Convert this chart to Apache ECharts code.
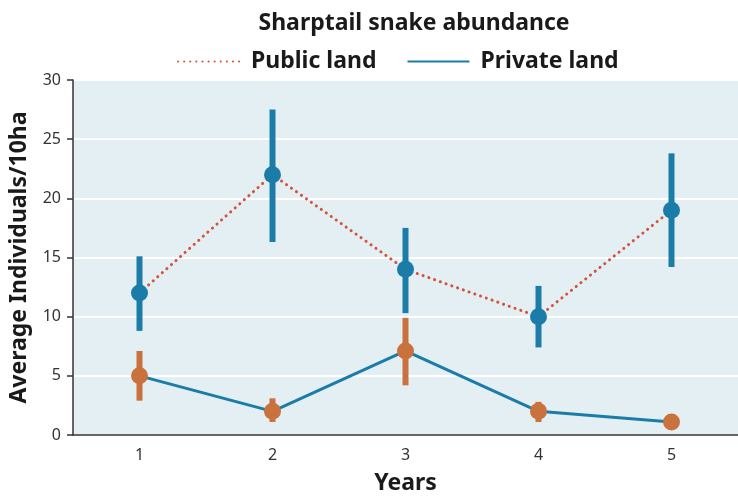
<!DOCTYPE html>
<html>
<head>
<meta charset="utf-8">
<script src="https://cdn.jsdelivr.net/npm/echarts@6/dist/echarts.min.js"></script>
<style>
html,body{margin:0;padding:0;background:#fff;}
#chart{width:738px;height:500px;}
</style>
</head>
<body>
<div id="chart"></div>
<script>
var years = ['1', '2', '3', '4', '5'];
var publicMean = [12, 22, 14, 10, 19];
var publicLow = [8.8, 16.3, 10.3, 7.4, 14.2];
var publicHigh = [15.1, 27.5, 17.5, 12.6, 23.8];
var privateMean = [5, 2, 7.1, 2, 1.1];
var privateLow = [2.9, 1.1, 4.2, 1.1, null];
var privateHigh = [7.1, 3.1, 9.9, 2.8, null];

var BLUE = '#1b7ca8';
var ORANGE = '#c9723e';
var DOT = '#d4533b';
var FONT = '"Noto Sans", sans-serif';

function errData(low, high) {
  var out = [];
  for (var i = 0; i < years.length; i++) {
    if (low[i] != null && high[i] != null) out.push([i, low[i], high[i]]);
  }
  return out;
}
function errSeries(low, high, color) {
  return {
    type: 'custom',
    silent: true,
    z: 3,
    data: errData(low, high),
    renderItem: function (params, api) {
      var p1 = api.coord([api.value(0), api.value(1)]);
      var p2 = api.coord([api.value(0), api.value(2)]);
      return {
        type: 'line',
        shape: {x1: p1[0], y1: p1[1], x2: p2[0], y2: p2[1]},
        style: {stroke: color, lineWidth: 6}
      };
    }
  };
}

var chart = echarts.init(document.getElementById('chart'));
chart.setOption({
  animation: false,
  textStyle: {fontFamily: FONT},
  title: {
    text: 'Sharptail snake abundance',
    left: 409, textAlign: 'center', top: 7,
    textStyle: {fontSize: 23, fontWeight: 'bold', color: '#1a1a1a', fontFamily: FONT}
  },
  legend: {
    top: 45, left: 172,
    itemWidth: 62, itemHeight: 14, itemGap: 30,
    itemStyle: {opacity: 0},
    textStyle: {fontSize: 23, fontWeight: 'bold', color: '#1a1a1a', fontFamily: FONT, padding: [0, 0, 0, 6]},
    data: ['Public land', 'Private land']
  },
  grid: {
    left: 73, right: 0, top: 80, bottom: 59,
    show: true, backgroundColor: '#e4eff4', borderWidth: 0
  },
  xAxis: {
    type: 'category',
    data: years,
    name: 'Years', nameLocation: 'middle', nameGap: 37,
    nameTextStyle: {fontSize: 23, fontWeight: 'bold', color: '#1a1a1a', fontFamily: FONT},
    axisLine: {lineStyle: {color: '#333', width: 1.5}},
    axisTick: {length: 6, lineStyle: {color: '#333', width: 1.5}},
    axisLabel: {fontSize: 16, color: '#333', margin: 12}
  },
  yAxis: {
    type: 'value', min: 0, max: 30, interval: 5,
    name: 'Average Individuals/10ha', nameLocation: 'middle', nameGap: 42,
    nameTextStyle: {fontSize: 23, fontWeight: 'bold', color: '#1a1a1a', fontFamily: FONT},
    axisLine: {show: true, lineStyle: {color: '#333', width: 1.5}},
    axisTick: {show: true, length: 6, lineStyle: {color: '#333', width: 1.5}},
    axisLabel: {fontSize: 16, color: '#333', margin: 12},
    splitLine: {show: true, lineStyle: {color: '#ffffff', width: 2}}
  },
  series: [
    {
      name: 'Public land', type: 'line', data: publicMean,
      symbol: 'none', z: 2,
      itemStyle: {color: DOT},
      lineStyle: {color: DOT, width: 3, type: [0.1, 6], cap: 'round'}
    },
    {
      name: 'Private land', type: 'line', data: privateMean,
      symbol: 'none', z: 2,
      itemStyle: {color: BLUE},
      lineStyle: {color: BLUE, width: 3}
    },
    errSeries(publicLow, publicHigh, BLUE),
    errSeries(privateLow, privateHigh, ORANGE),
    {
      type: 'scatter', data: publicMean, symbolSize: 17, z: 4, silent: true,
      itemStyle: {color: BLUE, opacity: 1}
    },
    {
      type: 'scatter', data: privateMean, symbolSize: 17, z: 4, silent: true,
      itemStyle: {color: ORANGE, opacity: 1}
    }
  ]
});
</script>
</body>
</html>
